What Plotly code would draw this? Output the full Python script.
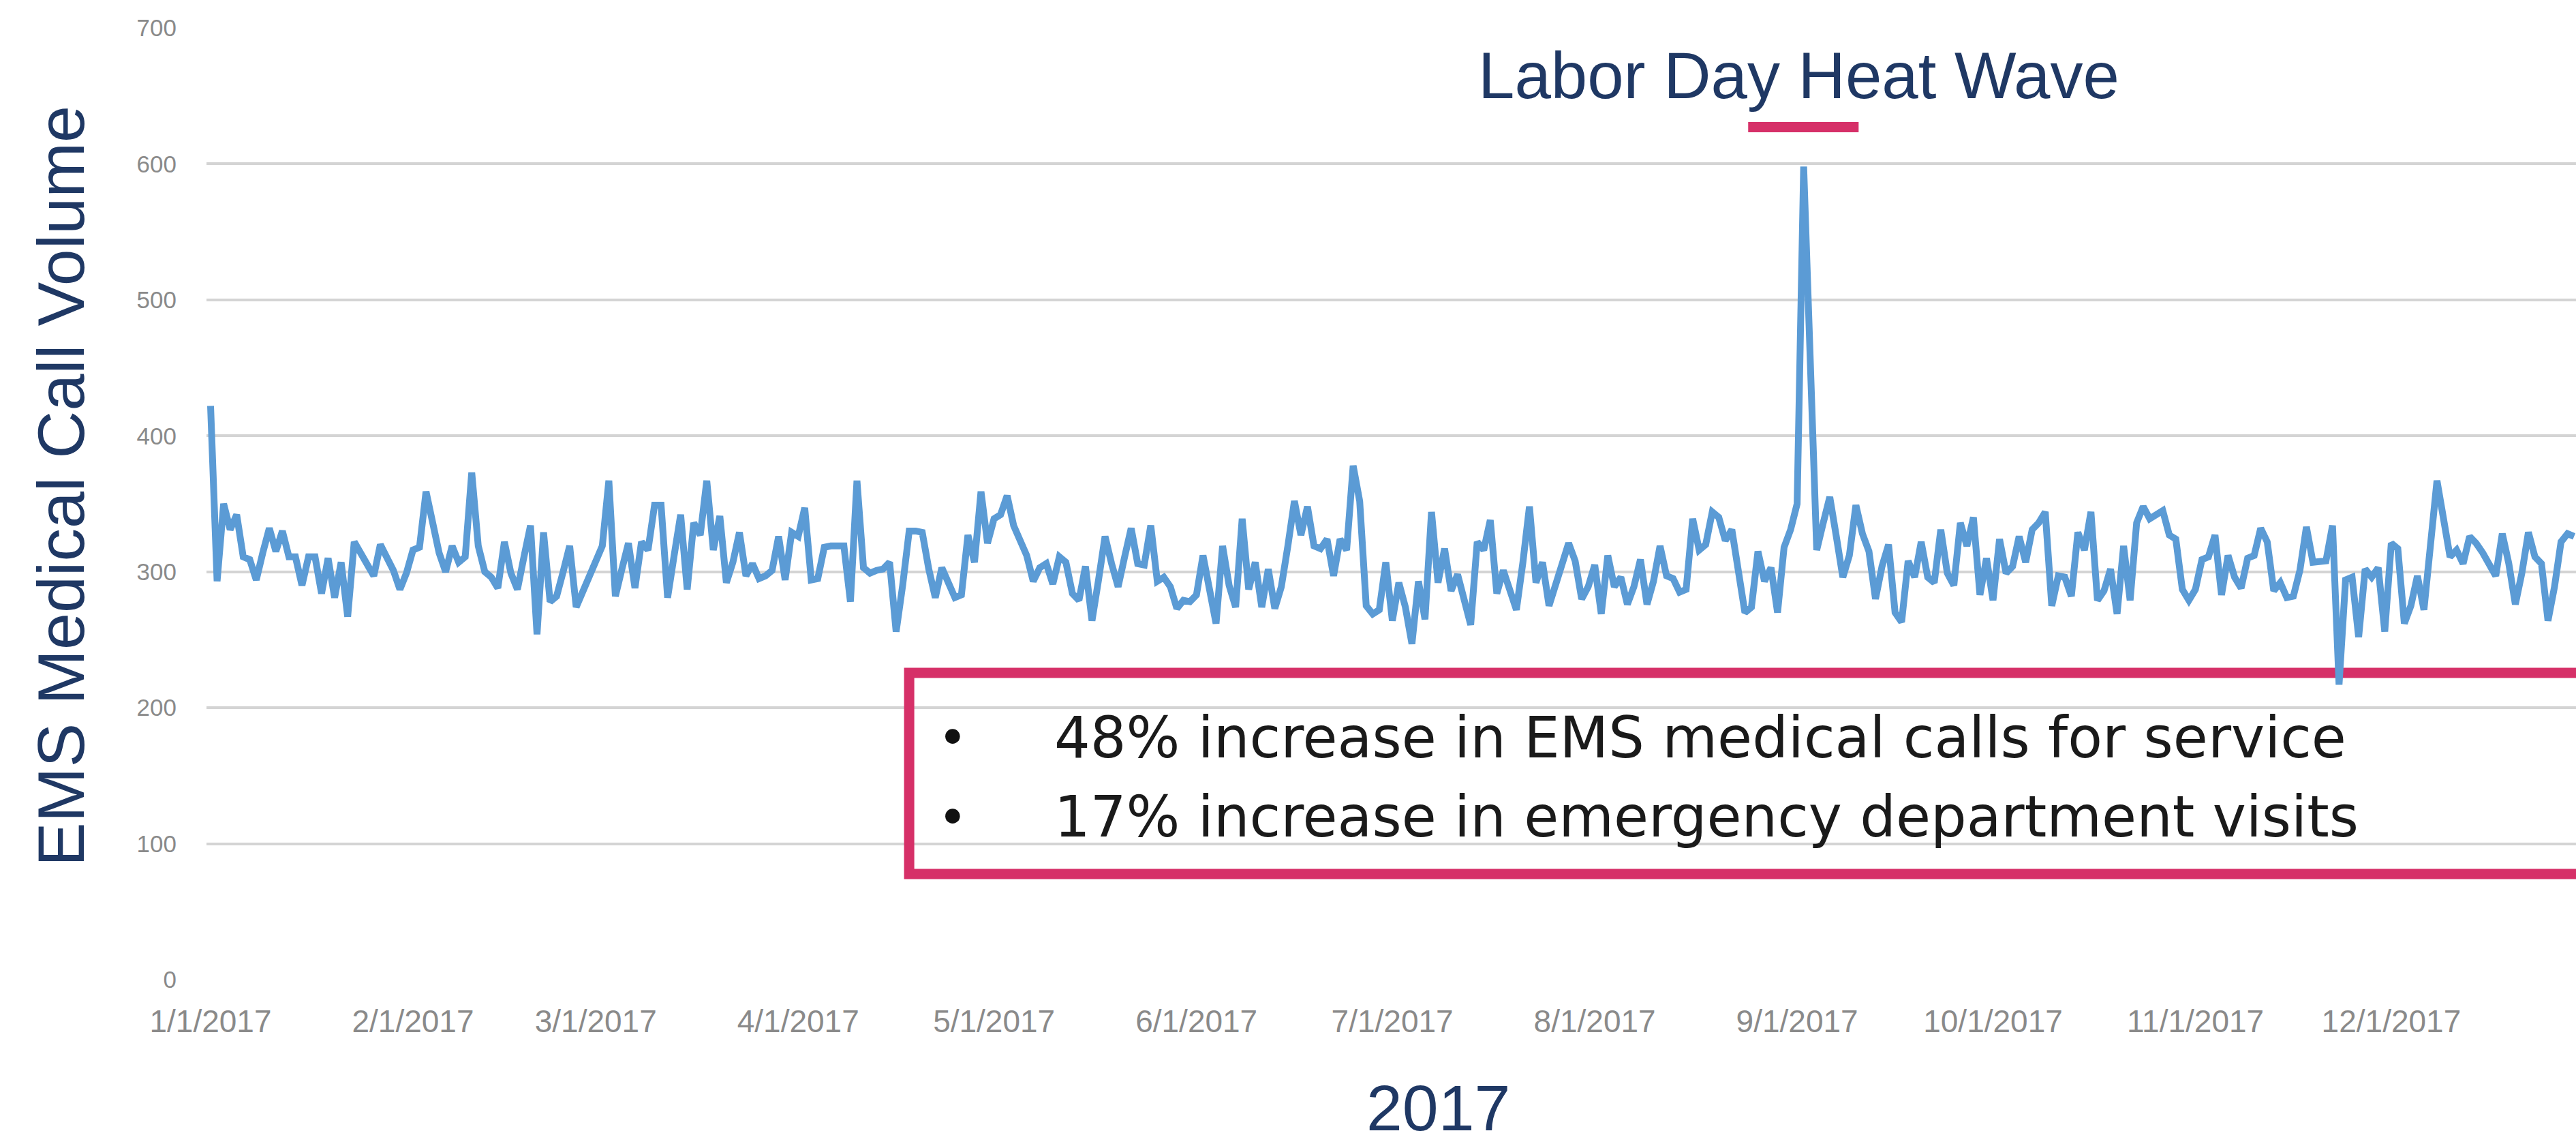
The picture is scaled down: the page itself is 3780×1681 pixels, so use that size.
import pandas as pd
import plotly.graph_objects as go

# Daily EMS medical call volume, 2017 (one list per month)
jan = [422, 293, 350, 331, 342, 311, 309, 294, 314, 332, 315, 330, 311, 311, 290, 311,
       311, 284, 310, 281, 307, 267, 322, 314, 305, 297, 320, 310, 301, 287, 299]
feb = [316, 318, 359, 336, 314, 300, 319, 307, 311, 373, 319, 300, 296, 288, 322, 299,
       287, 311, 334, 254, 329, 278, 282, 300, 319, 274, 286, 297]
mar = [307, 319, 367, 282, 302, 321, 288, 322, 316, 349, 349, 281, 312, 342, 287, 336,
       327, 367, 316, 341, 292, 307, 329, 297, 306, 295, 297, 301, 326, 294, 329]
apr = [326, 347, 294, 295, 318, 319, 319, 319, 278, 367, 303, 299, 301, 302, 307, 256,
       290, 330, 330, 329, 302, 281, 303, 292, 281, 283, 327, 307, 359, 321]
may = [339, 342, 356, 334, 322, 312, 293, 303, 306, 291, 311, 307, 284, 279, 304, 264,
       294, 326, 306, 289, 311, 332, 306, 305, 334, 293, 296, 289, 273, 279, 278]
jun = [283, 312, 289, 262, 319, 290, 274, 339, 287, 307, 274, 302, 273, 289, 319, 352,
       327, 348, 319, 317, 324, 297, 324, 316, 378, 352, 275, 269, 272, 307]
jul = [264, 292, 274, 247, 293, 265, 344, 292, 317, 286, 298, 279, 261, 322, 316, 338,
       284, 301, 286, 272, 307, 348, 292, 307, 275, 291, 307, 321, 308, 280, 289]
aug = [305, 269, 312, 289, 296, 276, 289, 309, 276, 293, 319, 297, 295, 285, 287, 339,
       316, 320, 344, 340, 323, 331, 301, 270, 274, 315, 293, 303, 270, 318, 331]
sep = [350, 598, 470, 316, 336, 355, 326, 296, 312, 349, 328, 315, 280, 304, 320, 270,
       263, 308, 296, 322, 296, 292, 331, 299, 290, 336, 319, 340, 283, 310]
oct_ = [279, 324, 299, 304, 326, 307, 331, 336, 344, 275, 297, 296, 282, 329, 316, 344,
        279, 286, 302, 269, 319, 279, 336, 348, 339, 342, 345, 327, 324, 287, 279]
nov = [287, 309, 311, 327, 283, 312, 296, 288, 310, 312, 332, 322, 286, 292, 281, 282,
       301, 333, 307, 307, 308, 334, 217, 294, 296, 252, 302, 296, 303, 256]
dec = [321, 317, 262, 275, 297, 272, 326, 367, 339, 311, 316, 306, 326, 321, 314, 306,
       297, 328, 306, 276, 299, 329, 311, 306, 264, 289, 322, 328, 326]

calls = jan + feb + mar + apr + may + jun + jul + aug + sep + oct_ + nov + dec
dates = pd.date_range("2017-01-01", periods=len(calls), freq="D")

tick_dates = pd.date_range("2017-01-01", "2017-12-01", freq="MS")
tick_labels = ["1/1/2017", "2/1/2017", "3/1/2017", "4/1/2017", "5/1/2017", "6/1/2017",
               "7/1/2017", "8/1/2017", "9/1/2017", "10/1/2017", "11/1/2017", "12/1/2017"]
y_ticks = [0, 100, 200, 300, 400, 500, 600, 700]

bullets = ["48% increase in EMS medical calls for service",
           "17% increase in emergency department visits"]

NAVY = "#1F3864"
RED = "#D63068"
BLUE = "#5B9BD5"
GRID = "#D4D4D4"
TICK = "#8A8A8A"
SANS = "Liberation Sans, Arial, sans-serif"

W, H = 3780, 1681
L, R, T, B = 303, 0, 41, 244


def px_x(px):
    return (px - L) / (W - L - R)


def px_y(py):
    return (H - B - py) / (H - T - B)


fig = go.Figure(
    go.Scatter(x=dates, y=calls, mode="lines",
               line=dict(color=BLUE, width=10), hoverinfo="x+y")
)

annotations = [
    dict(text="EMS Medical Call Volume", xref="paper", yref="paper",
         x=px_x(89), y=px_y(713), textangle=-90, showarrow=False,
         xanchor="center", yanchor="middle",
         font=dict(family=SANS, size=97, color=NAVY)),
    dict(text="2017", xref="paper", yref="paper", x=px_x(2110), y=px_y(1625),
         showarrow=False, xanchor="center", yanchor="middle",
         font=dict(family=SANS, size=95, color=NAVY)),
    dict(text="Labor Day Heat Wave", xref="x", yref="y",
         x="2017-09-01 07:00", y=665, showarrow=False,
         xanchor="center", yanchor="middle",
         font=dict(family=SANS, size=96, color=NAVY)),
]
for line_text, yv in zip(bullets, [178, 119.5]):
    annotations.append(dict(text="•", xref="paper", yref="y", x=px_x(1398), y=yv,
                            showarrow=False, xanchor="center", yanchor="middle",
                            font=dict(family="DejaVu Sans", size=74, color="#111111")))
    annotations.append(dict(text=line_text, xref="paper", yref="y", x=px_x(1545), y=yv,
                            showarrow=False, xanchor="left", yanchor="middle",
                            font=dict(family="DejaVu Sans", size=83, color="#1A1A1A")))

shapes = [
    dict(type="rect", xref="x", yref="y", x0="2017-04-18", x1="2018-01-20",
         y0=77.7, y1=225.7, line=dict(color=RED, width=15), layer="between"),
    dict(type="line", xref="x", yref="y", x0="2017-08-24 12:00", x1="2017-09-10 10:00",
         y0=627, y1=627, line=dict(color=RED, width=15)),
]

fig.update_layout(
    width=W, height=H,
    margin=dict(l=L, r=R, t=T, b=B, pad=0),
    paper_bgcolor="white", plot_bgcolor="white",
    showlegend=False,
    annotations=annotations,
    shapes=shapes,
    xaxis=dict(type="date", range=["2016-12-31 09:00", "2017-12-29 07:00"],
               tickvals=tick_dates, ticktext=tick_labels,
               showgrid=False, zeroline=False, showline=False, ticks="",
               tickfont=dict(family=SANS, size=46, color=TICK),
               ticklabelstandoff=30),
    yaxis=dict(range=[0, 700], tickvals=y_ticks,
               showgrid=True, gridcolor=GRID, gridwidth=4,
               zeroline=False, showline=False, ticks="",
               tickfont=dict(family=SANS, size=35, color=TICK),
               ticklabelstandoff=43),
)

fig.write_html("out.html")
